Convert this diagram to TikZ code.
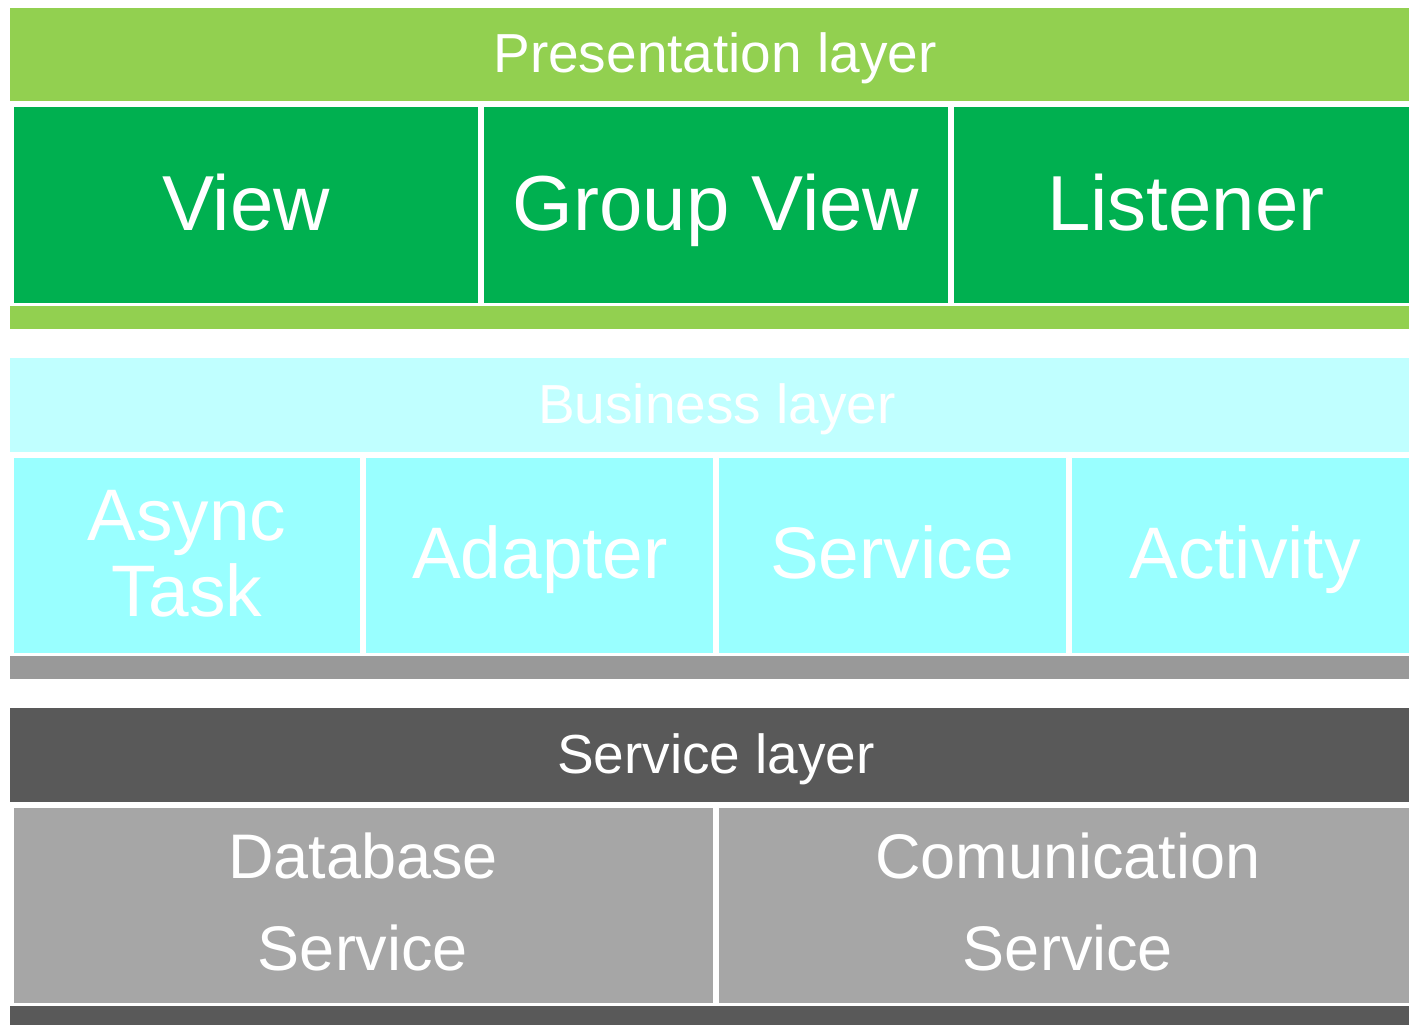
\documentclass[tikz,border=0pt]{standalone}
\usepackage{fontspec}
\setmainfont{Liberation Sans}
\definecolor{pgreen}{RGB}{146,208,80}
\definecolor{dgreen}{RGB}{0,176,80}
\definecolor{bhead}{RGB}{192,255,255}
\definecolor{bcell}{RGB}{153,255,255}
\definecolor{gbar}{RGB}{153,153,153}
\definecolor{shead}{RGB}{89,89,89}
\definecolor{scell}{RGB}{166,166,166}
\tikzset{
  hdrtext/.style={text=white, anchor=base, inner sep=0pt, font=\fontsize{55}{55}\selectfont},
  prestext/.style={text=white, anchor=base, inner sep=0pt, font=\fontsize{78}{78}\selectfont},
  bustext/.style={text=white, anchor=base, inner sep=0pt, align=center, font=\fontsize{73}{76}\selectfont},
  sertext/.style={text=white, anchor=base, inner sep=0pt, align=center, font=\fontsize{63}{92}\selectfont}
}
\begin{document}
\begin{tikzpicture}[x=1pt,y=-1pt]
\useasboundingbox[fill=white] (0,0) rectangle (1409,1025);
% presentation layer
\fill[pgreen] (10,8) rectangle (1409,101);
\fill[dgreen] (14,107) rectangle (478,303);
\fill[dgreen] (484,107) rectangle (948,303);
\fill[dgreen] (954,107) rectangle (1409,303);
\fill[pgreen] (10,306) rectangle (1409,329);
\node[hdrtext] (ph) at (715,73) {Presentation layer};
\node[prestext] (view) at (246,230) {View};
\node[prestext] (gview) at (716,230) {Group View};
\node[prestext] (listener) at (1186,230) {Listener};
% business layer
\fill[bhead] (10,358) rectangle (1409,452);
\fill[bcell] (14,458) rectangle (360,653);
\fill[bcell] (366,458) rectangle (713,653);
\fill[bcell] (719,458) rectangle (1066,653);
\fill[bcell] (1072,458) rectangle (1409,653);
\fill[gbar] (10,656) rectangle (1409,679);
\node[hdrtext] (bh) at (717,423) {Business layer};
\node[bustext] (async) at (187,616) {Async\\Task};
\node[bustext] (adapter) at (540,578) {Adapter};
\node[bustext] (service) at (892,578) {Service};
\node[bustext] (activity) at (1245,578) {Activity};
% service layer
\fill[shead] (10,708) rectangle (1409,802);
\fill[scell] (14,808) rectangle (713,1003);
\fill[scell] (719,808) rectangle (1409,1003);
\fill[shead] (10,1006) rectangle (1409,1025);
\node[hdrtext] (sh) at (716,773) {Service layer};
\node[sertext] (db) at (363,970) {Database\\Service};
\node[sertext] (com) at (1068,970) {Comunication\\Service};
\end{tikzpicture}
\end{document}
